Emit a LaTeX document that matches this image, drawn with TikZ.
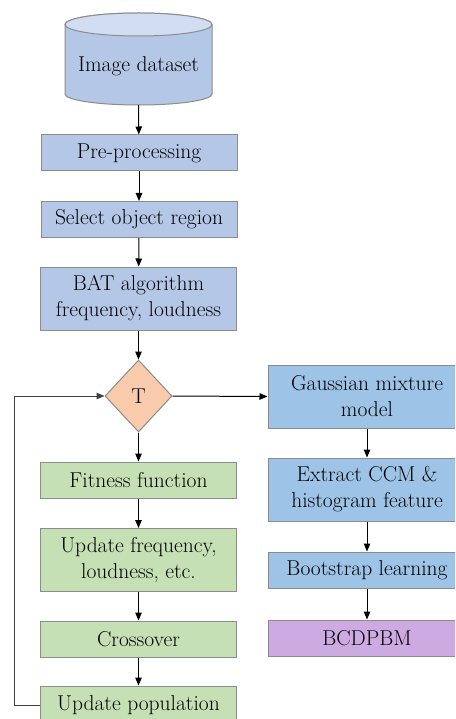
\documentclass[tikz,border=0pt]{standalone}
\usetikzlibrary{shapes.geometric,arrows.meta}
\definecolor{bleft}{HTML}{B4C7E7}
\definecolor{bright}{HTML}{9DC3E6}
\definecolor{gbox}{HTML}{C5E0B4}
\definecolor{dfill}{HTML}{F8CBAD}
\definecolor{pbox}{HTML}{CEAAE2}
\definecolor{edge}{HTML}{8C8C8C}
\tikzset{
  txt/.style={font=\fontsize{21.5}{26}\selectfont},
  box/.style={draw=edge, line width=1pt, rectangle, minimum width=196pt, inner sep=0pt,
    align=center, txt},
  onebox/.style={box, minimum height=36pt},
  twobox/.style={box, minimum height=63pt},
  arr/.style={-{Triangle[length=8pt,width=6.5pt]}, line width=1pt, black},
  dec/.style={draw=edge, line width=1pt, diamond, fill=dfill, inner sep=0pt,
    minimum width=67pt, minimum height=72pt, txt}
}
\begin{document}
\begin{tikzpicture}[x=1pt,y=-1pt]
\useasboundingbox (0,0) rectangle (455,719);
\clip (0,0) rectangle (455,719);
\fill[white] (0,0) rectangle (455,719);
% cylinder
\draw[draw=edge, line width=1pt, fill=bleft]
  (65,24.5) -- (65,94) arc[start angle=180, end angle=360, x radius=73.5, y radius=-11] -- (212,24.5)
  arc[start angle=0, end angle=180, x radius=73.5, y radius=-11.5] -- cycle;
\draw[draw=edge, line width=1pt, fill=bleft!60!white]
  (138.5,24.5) ellipse[x radius=73.5, y radius=11.5];
\node[txt] (db) at (138.5,66) {Image dataset};
\coordinate (dbb) at (138.5,105);
% left column
\node[onebox, fill=bleft] (pre) at (139,153) {Pre-processing};
\node[onebox, fill=bleft] (sel) at (139,219.5) {Select object region};
\node[twobox, fill=bleft] (bat) at (138.5,298.5) {BAT algorithm\\frequency, loudness};
\node[dec] (T) at (138.5,396) {T};
\node[onebox, fill=gbox] (fit) at (138.5,480) {Fitness function};
\node[twobox, fill=gbox] (upd) at (138.5,560) {Update frequency,\\loudness, etc.};
\node[onebox, fill=gbox] (cro) at (138.5,639) {Crossover};
\node[box, minimum height=38pt, fill=gbox] (pop) at (138.5,705) {Update population};
% right column
\node[twobox, minimum width=198pt, fill=bright] (gmm) at (367,396.5) {Gaussian mixture\\model};
\node[twobox, minimum width=198pt, fill=bright] (ext) at (367,489.5) {Extract CCM \&\\histogram feature};
\node[onebox, minimum width=198pt, fill=bright] (boot) at (367,570) {Bootstrap learning};
\node[onebox, minimum width=198pt, fill=pbox] (bcd) at (367,638) {BCDPBM};
% arrows
\draw[arr] (dbb) -- (pre);
\draw[arr] (pre) -- (sel);
\draw[arr] (sel) -- (bat);
\draw[arr] (bat) -- (T);
\draw[arr] (T) -- (fit);
\draw[arr] (fit) -- (upd);
\draw[arr] (upd) -- (cro);
\draw[arr] (cro) -- (pop);
\draw[arr] (T.east) -- (gmm.west);
\draw[arr] (gmm) -- (ext);
\draw[arr] (ext) -- (boot);
\draw[arr] (boot) -- (bcd);
\coordinate (lb) at (14,705);
\coordinate (lt) at (14,396);
\draw[arr, draw=black!75] (pop.west) -- (lb) -- (lt) -- (T.west);
\end{tikzpicture}
\end{document}
